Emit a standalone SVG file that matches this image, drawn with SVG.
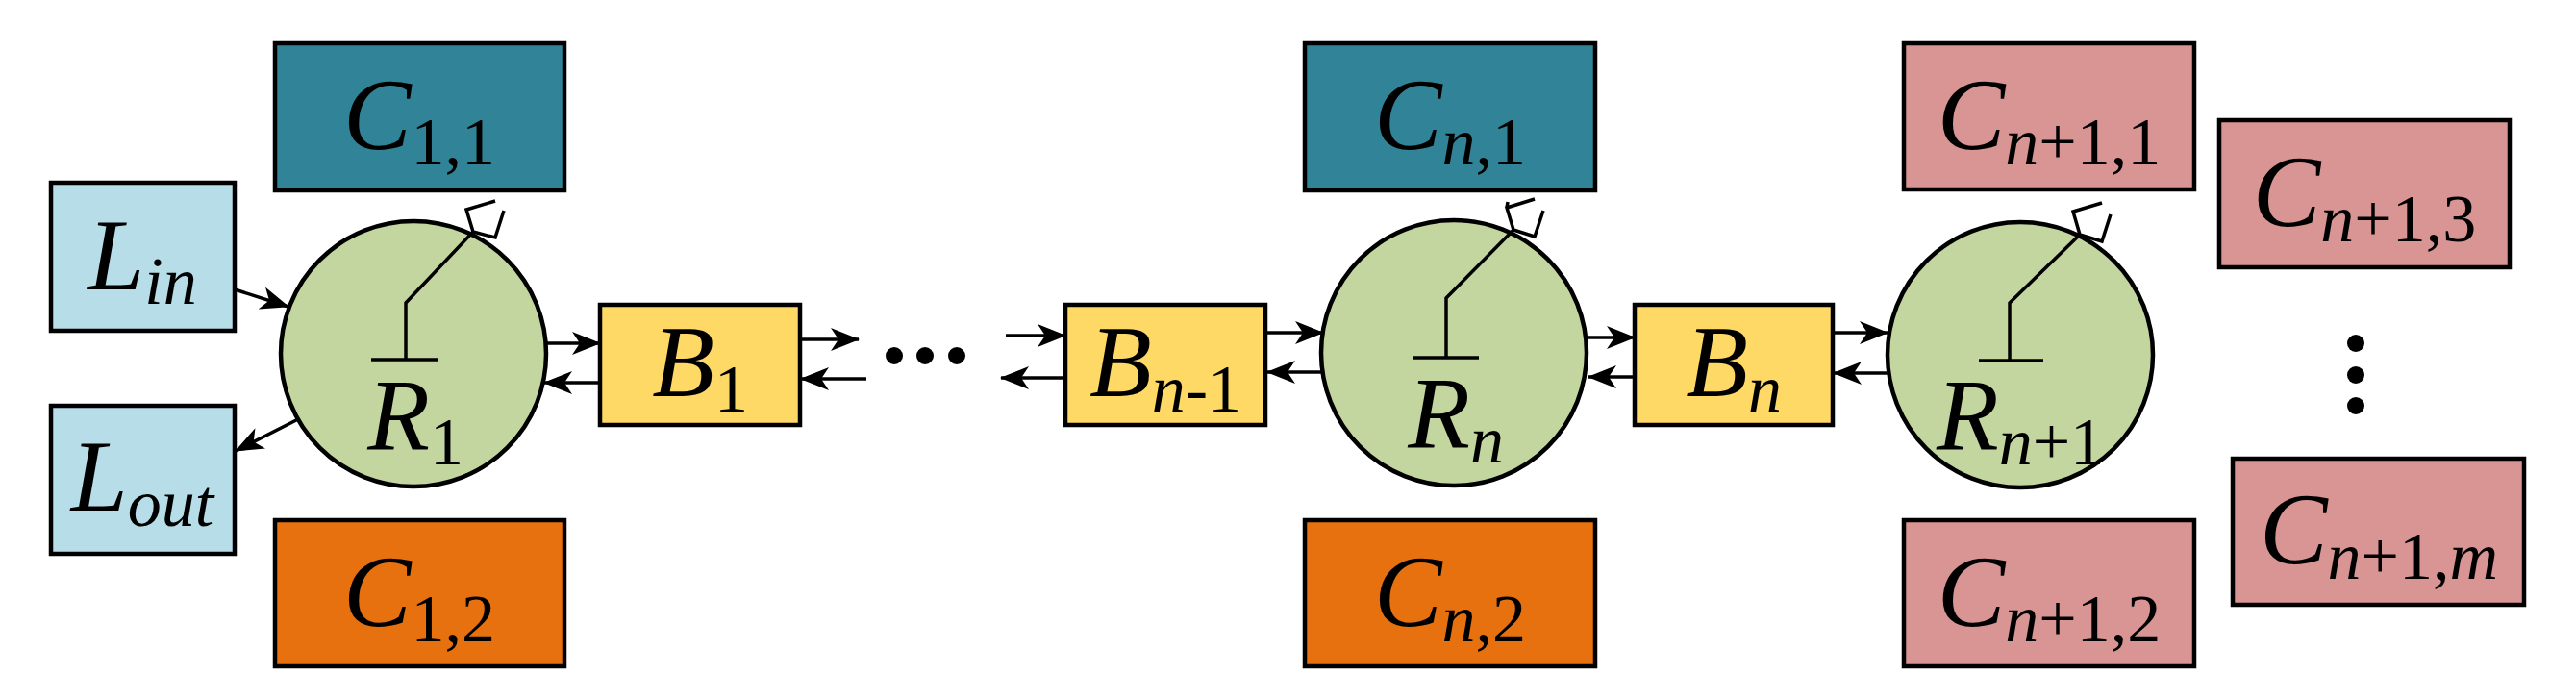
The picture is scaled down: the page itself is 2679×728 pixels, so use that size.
<svg xmlns="http://www.w3.org/2000/svg" width="2679" height="728" viewBox="0 0 2679 728">
<style>
.b{stroke:#000;stroke-width:4.5}
.teal{fill:#318497}.org{fill:#E8710F}.lb{fill:#B7DEE8}.yel{fill:#FFD966}.grn{fill:#C4D6A0}.pk{fill:#D99594}
text{font-family:"Liberation Serif","Times New Roman",serif;font-size:106px;fill:#000;text-anchor:middle}
.i{font-style:italic}
.s{font-size:70px}
.ln{stroke:#000;stroke-width:3.5;fill:none}
.ant{stroke:#000;stroke-width:3.5;fill:none}
</style>
<defs>
<marker id="a" viewBox="0 0 30 24" refX="29" refY="12" markerWidth="30" markerHeight="24" markerUnits="userSpaceOnUse" orient="auto">
<path d="M0,0 L30,12 L0,24 L8,12 Z" fill="#000"/>
</marker>
</defs>
<g id="connectors">
<line class="ln" x1="244" y1="301" x2="300" y2="319" marker-end="url(#a)"/>
<line class="ln" x1="310" y1="436" x2="245" y2="469" marker-end="url(#a)"/>
<line class="ln" x1="569" y1="357" x2="624" y2="357" marker-end="url(#a)"/>
<line class="ln" x1="624" y1="398" x2="566" y2="398" marker-end="url(#a)"/>
<line class="ln" x1="832" y1="353" x2="893" y2="353" marker-end="url(#a)"/>
<line class="ln" x1="901" y1="394" x2="833" y2="394" marker-end="url(#a)"/>
<line class="ln" x1="1046" y1="349" x2="1108" y2="349" marker-end="url(#a)"/>
<line class="ln" x1="1108" y1="393" x2="1041" y2="393" marker-end="url(#a)"/>
<line class="ln" x1="1316" y1="346" x2="1376" y2="346" marker-end="url(#a)"/>
<line class="ln" x1="1376" y1="387" x2="1318" y2="387" marker-end="url(#a)"/>
<line class="ln" x1="1650" y1="351" x2="1700" y2="351" marker-end="url(#a)"/>
<line class="ln" x1="1700" y1="392" x2="1652" y2="392" marker-end="url(#a)"/>
<line class="ln" x1="1906" y1="346" x2="1963" y2="346" marker-end="url(#a)"/>
<line class="ln" x1="1963" y1="388" x2="1907" y2="388" marker-end="url(#a)"/>
</g>
<g id="dots-h"><circle cx="930" cy="370" r="9"/><circle cx="962" cy="370" r="9"/><circle cx="995" cy="370" r="9"/></g>
<g id="dots-v"><circle cx="2450" cy="357" r="9"/><circle cx="2450" cy="390" r="9"/><circle cx="2450" cy="422" r="9"/></g>

<g id="C11"><rect class="b teal" x="286" y="45" width="301" height="153"/><text x="436" y="155"><tspan class="i">C</tspan><tspan class="s" dy="16">1,1</tspan></text></g>
<g id="C12"><rect class="b org" x="286" y="541" width="301" height="152"/><text x="436" y="651"><tspan class="i">C</tspan><tspan class="s" dy="16">1,2</tspan></text></g>
<g id="Lin"><rect class="b lb" x="53" y="190" width="191" height="154"/><text x="148" y="301"><tspan class="i">L</tspan><tspan class="s i" dy="15">in</tspan></text></g>
<g id="Lout"><rect class="b lb" x="53" y="422" width="191" height="154"/><text x="148" y="531"><tspan class="i">L</tspan><tspan class="s i" dy="16">out</tspan></text></g>
<g id="R1"><circle class="b grn" cx="430" cy="368" r="138"/>
<path class="ant" d="M386,374 H456 M422,374 V315 L492,241 M515,209 L485,218 L492,241 L515,247 L524,219"/>
<text x="432" y="467"><tspan class="i">R</tspan><tspan class="s" dy="16">1</tspan></text></g>
<g id="B1"><rect class="b yel" x="624" y="317" width="208" height="125"/><text x="728" y="412"><tspan class="i">B</tspan><tspan class="s" dy="16">1</tspan></text></g>

<g id="Bn-1"><rect class="b yel" x="1108" y="317" width="208" height="125"/><text x="1212" y="412"><tspan class="i">B</tspan><tspan class="s i" dy="16">n</tspan><tspan class="s">-1</tspan></text></g>
<g id="Cn1"><rect class="b teal" x="1357" y="45" width="302" height="153"/><text x="1508" y="155"><tspan class="i">C</tspan><tspan class="s i" dy="16">n</tspan><tspan class="s">,1</tspan></text></g>
<g id="Cn2"><rect class="b org" x="1357" y="541" width="302" height="152"/><text x="1508" y="651"><tspan class="i">C</tspan><tspan class="s i" dy="16">n</tspan><tspan class="s">,2</tspan></text></g>
<g id="Rn"><circle class="b grn" cx="1512" cy="367" r="138"/>
<path class="ant" d="M1470,372 H1538 M1504,372 V310 L1574,239 M1568,210 L1567,216 M1574,239 L1567,216 L1596,207 M1574,239 L1596,246 L1605,219"/>
<text x="1514" y="465"><tspan class="i">R</tspan><tspan class="s i" dy="16">n</tspan></text></g>
<g id="Bn"><rect class="b yel" x="1700" y="317" width="206" height="125"/><text x="1803" y="412"><tspan class="i">B</tspan><tspan class="s i" dy="16">n</tspan></text></g>

<g id="Cn+11"><rect class="b pk" x="1980" y="45" width="302" height="152"/><text x="2131" y="155"><tspan class="i">C</tspan><tspan class="s i" dy="16">n</tspan><tspan class="s">+1,1</tspan></text></g>
<g id="Cn+12"><rect class="b pk" x="1980" y="541" width="302" height="152"/><text x="2131" y="651"><tspan class="i">C</tspan><tspan class="s i" dy="16">n</tspan><tspan class="s">+1,2</tspan></text></g>
<g id="Cn+13"><rect class="b pk" x="2308" y="125" width="302" height="153"/><text x="2459" y="235"><tspan class="i">C</tspan><tspan class="s i" dy="16">n</tspan><tspan class="s">+1,3</tspan></text></g>
<g id="Cn+1m"><rect class="b pk" x="2322" y="477" width="303" height="152"/><text x="2474" y="586"><tspan class="i">C</tspan><tspan class="s i" dy="16">n</tspan><tspan class="s">+1,</tspan><tspan class="s i">m</tspan></text></g>
<g id="Rn+1"><circle class="b grn" cx="2101" cy="369" r="138"/>
<path class="ant" d="M2058,375 H2125 M2090,375 V315 L2163,244 M2163,244 L2156,220 L2186,211 M2163,244 L2186,251 L2195,223"/>
<text x="2101" y="467"><tspan class="i">R</tspan><tspan class="s i" dy="16">n</tspan><tspan class="s">+1</tspan></text></g>
</svg>
